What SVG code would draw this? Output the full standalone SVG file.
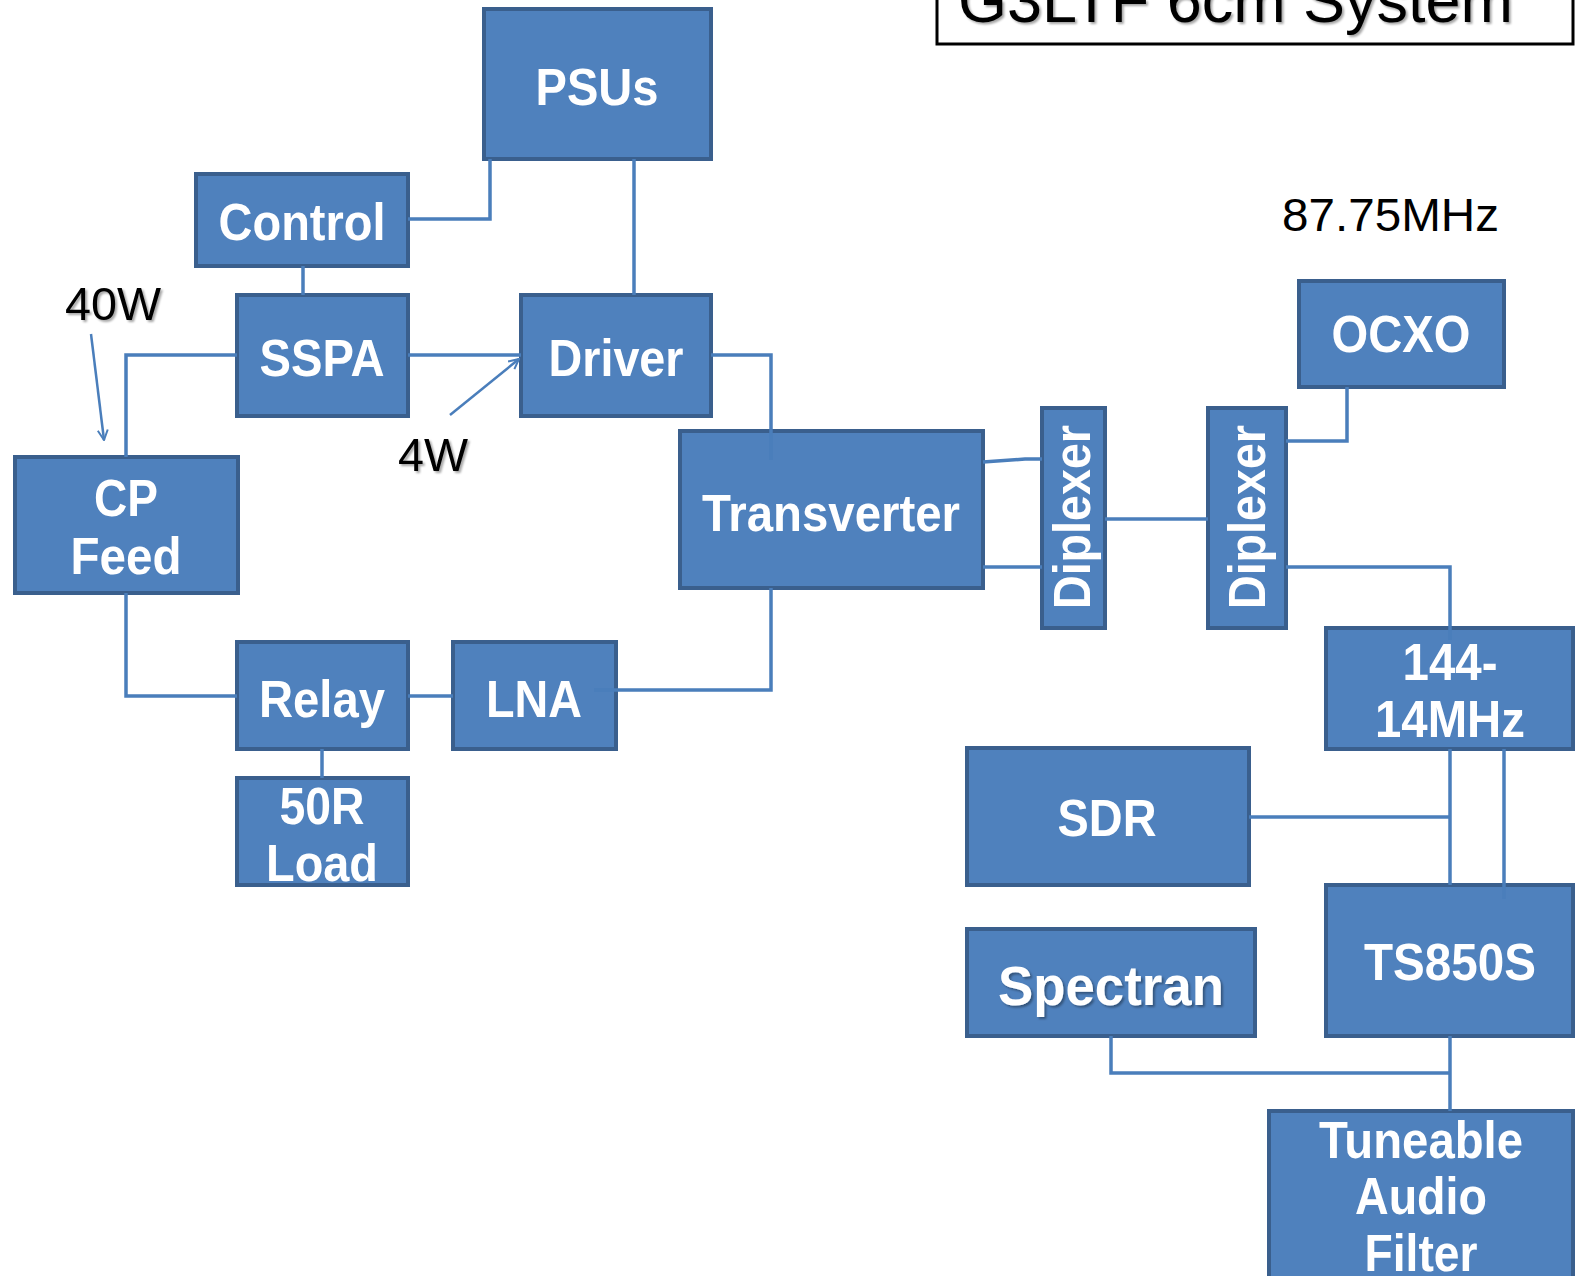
<svg xmlns="http://www.w3.org/2000/svg" width="1579" height="1276" viewBox="0 0 1579 1276">
<defs>
<style>
.box{fill:#4F81BD;stroke:#3A5F8D;stroke-width:4}
.lbl{fill:#FFFFFF;font-family:"Liberation Sans",Arial,sans-serif;font-weight:bold;font-size:52px;text-anchor:middle}
.blk{fill:#000000;font-family:"Liberation Sans",Arial,sans-serif;font-size:46px}
.wire{fill:none;stroke:#4A7EBB;stroke-width:3.5}
.arr{fill:none;stroke:#4A7EBB;stroke-width:2.5}
</style>
<filter id="sh" x="-10%" y="-10%" width="130%" height="140%">
<feDropShadow dx="2" dy="2" stdDeviation="1.2" flood-color="#000" flood-opacity="0.35"/>
</filter>
<marker id="oa" viewBox="0 0 12 12" refX="11" refY="6" markerWidth="12" markerHeight="12" markerUnits="userSpaceOnUse" orient="auto">
<path d="M1,1 L11,6 L1,11" fill="none" stroke="#4A7EBB" stroke-width="2"/>
</marker>
</defs>
<rect width="1579" height="1276" fill="#FFFFFF"/>

<g id="title">
<rect x="937" y="-10" width="636" height="54" fill="#FFFFFF" stroke="#000" stroke-width="3"/>
<text x="958" y="22" class="blk" style="font-size:63px" textLength="555" lengthAdjust="spacingAndGlyphs" filter="url(#sh)">G3LTF 6cm System</text>
</g>

<g id="psus"><rect class="box" x="484" y="9" width="227" height="150"/><text class="lbl" x="597" y="105" textLength="123" lengthAdjust="spacingAndGlyphs">PSUs</text></g>
<g id="control"><rect class="box" x="196" y="174" width="212" height="92"/><text class="lbl" x="302" y="240" textLength="167" lengthAdjust="spacingAndGlyphs">Control</text></g>
<g id="sspa"><rect class="box" x="237" y="295" width="171" height="121"/><text class="lbl" x="322" y="376" textLength="125" lengthAdjust="spacingAndGlyphs">SSPA</text></g>
<g id="driver"><rect class="box" x="521" y="295" width="190" height="121"/><text class="lbl" x="616" y="376" textLength="135" lengthAdjust="spacingAndGlyphs">Driver</text></g>
<g id="cpfeed"><rect class="box" x="15" y="457" width="223" height="136"/><text class="lbl" x="126" y="516" textLength="64" lengthAdjust="spacingAndGlyphs">CP</text><text class="lbl" x="126" y="574" textLength="111" lengthAdjust="spacingAndGlyphs">Feed</text></g>
<g id="transverter"><rect class="box" x="680" y="431" width="303" height="157"/><text class="lbl" x="831" y="531" textLength="258" lengthAdjust="spacingAndGlyphs">Transverter</text></g>
<g id="diplexer1"><rect class="box" x="1042" y="408" width="63" height="220"/><text class="lbl" transform="translate(1090,517) rotate(-90)" x="0" y="0" textLength="184" lengthAdjust="spacingAndGlyphs">Diplexer</text></g>
<g id="diplexer2"><rect class="box" x="1208" y="408" width="78" height="220"/><text class="lbl" transform="translate(1265,517) rotate(-90)" x="0" y="0" textLength="184" lengthAdjust="spacingAndGlyphs">Diplexer</text></g>
<g id="ocxo"><rect class="box" x="1299" y="281" width="205" height="106"/><text class="lbl" x="1401" y="352" textLength="139" lengthAdjust="spacingAndGlyphs">OCXO</text></g>
<g id="conv144"><rect class="box" x="1326" y="628" width="247" height="121"/><text class="lbl" x="1450" y="680" textLength="95" lengthAdjust="spacingAndGlyphs">144-</text><text class="lbl" x="1450" y="737" textLength="150" lengthAdjust="spacingAndGlyphs">14MHz</text></g>
<g id="sdr"><rect class="box" x="967" y="748" width="282" height="137"/><text class="lbl" x="1107" y="836" textLength="99" lengthAdjust="spacingAndGlyphs">SDR</text></g>
<g id="ts850s"><rect class="box" x="1326" y="885" width="247" height="151"/><text class="lbl" x="1450" y="980" textLength="172" lengthAdjust="spacingAndGlyphs">TS850S</text></g>
<g id="spectran"><rect class="box" x="967" y="929" width="288" height="107"/><text class="lbl" x="1111" y="1005" style="font-size:56px" textLength="226" lengthAdjust="spacingAndGlyphs" filter="url(#sh)">Spectran</text></g>
<g id="filter"><rect class="box" x="1269" y="1111" width="304" height="175"/><text class="lbl" x="1421" y="1158" textLength="204" lengthAdjust="spacingAndGlyphs">Tuneable</text><text class="lbl" x="1421" y="1214" textLength="132" lengthAdjust="spacingAndGlyphs">Audio</text><text class="lbl" x="1421" y="1271" textLength="113" lengthAdjust="spacingAndGlyphs">Filter</text></g>
<g id="relay"><rect class="box" x="237" y="642" width="171" height="107"/><text class="lbl" x="322" y="717" textLength="126" lengthAdjust="spacingAndGlyphs">Relay</text></g>
<g id="lna"><rect class="box" x="453" y="642" width="163" height="107"/><text class="lbl" x="534" y="717" textLength="96" lengthAdjust="spacingAndGlyphs">LNA</text></g>
<g id="load"><rect class="box" x="237" y="778" width="171" height="107"/><text class="lbl" x="322" y="824" textLength="85" lengthAdjust="spacingAndGlyphs">50R</text><text class="lbl" x="322" y="881" textLength="112" lengthAdjust="spacingAndGlyphs">Load</text></g>

<g id="connectors">
<polyline class="wire" points="408,219 490,219 490,159"/>
<line class="wire" x1="634" y1="159" x2="634" y2="295"/>
<line class="wire" x1="303" y1="266" x2="303" y2="295"/>
<line class="wire" x1="408" y1="355" x2="521" y2="355"/>
<polyline class="wire" points="237,355 126,355 126,457"/>
<polyline class="wire" points="711,355 771,355 771,460"/>
<polyline class="wire" points="771,588 771,690 594,690"/>
<polyline class="wire" points="983,462 1025,459 1042,459"/>
<line class="wire" x1="983" y1="567" x2="1042" y2="567"/>
<line class="wire" x1="1105" y1="519" x2="1208" y2="519"/>
<polyline class="wire" points="1347,387 1347,441 1286,441"/>
<polyline class="wire" points="1286,567 1450,567 1450,640"/>
<line class="wire" x1="1450" y1="749" x2="1450" y2="885"/>
<line class="wire" x1="1504" y1="749" x2="1504" y2="899"/>
<line class="wire" x1="1249" y1="817" x2="1450" y2="817"/>
<line class="wire" x1="1450" y1="1036" x2="1450" y2="1111"/>
<polyline class="wire" points="1111,1036 1111,1073 1450,1073"/>
<line class="wire" x1="408" y1="696" x2="453" y2="696"/>
<polyline class="wire" points="126,593 126,696 237,696"/>
<line class="wire" x1="322" y1="749" x2="322" y2="778"/>
<line class="arr" x1="91" y1="334" x2="104" y2="440" marker-end="url(#oa)"/>
<line class="arr" x1="450" y1="415" x2="519" y2="359" marker-end="url(#oa)"/>
</g>

<g id="labels">
<text class="blk" x="65" y="320" textLength="96" lengthAdjust="spacingAndGlyphs" filter="url(#sh)">40W</text>
<text class="blk" x="398" y="471" textLength="70" lengthAdjust="spacingAndGlyphs" filter="url(#sh)">4W</text>
<text class="blk" x="1282" y="231" textLength="217" lengthAdjust="spacingAndGlyphs">87.75MHz</text>
</g>
</svg>
